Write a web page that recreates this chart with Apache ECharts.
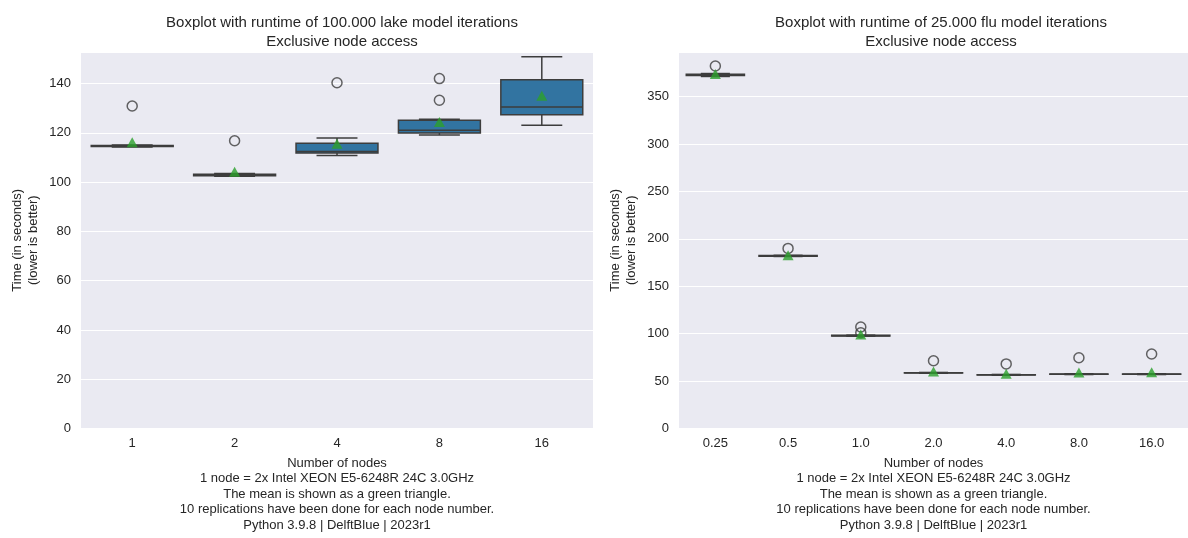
<!DOCTYPE html>
<html>
<head>
<meta charset="utf-8">
<script src="https://cdn.jsdelivr.net/npm/echarts@6/dist/echarts.min.js"></script>
<style>
  html, body { margin: 0; padding: 0; background: #fff; }
  #chart { width: 1188px; height: 538px; }
</style>
</head>
<body>
<div id="chart"></div>
<script>
// lake model, 100.000 iterations
const lakeNodes = ['1', '2', '4', '8', '16'];
const lakeMin = [114.2, 102.4, 110.8, 119.1, 123.1];
const lakeQ1 = [114.4, 102.6, 111.8, 119.9, 127.3];
const lakeMedian = [114.6, 102.8, 112.4, 121.0, 130.5];
const lakeQ3 = [114.9, 103.2, 115.8, 125.1, 141.5];
const lakeMax = [115.1, 103.5, 117.9, 125.5, 150.9];
const lakeMean = [116.2, 104.2, 115.6, 124.4, 135.0];
const lakeOutliers = [[0, 130.9], [1, 116.8], [2, 140.3], [3, 142.0], [3, 133.2]];

// flu model, 25.000 iterations
const fluNodes = ['0.25', '0.5', '1.0', '2.0', '4.0', '8.0', '16.0'];
const fluMin = [371.2, 181.4, 97.4, 58.3, 56.2, 56.9, 56.9];
const fluQ1 = [372.2, 181.7, 97.6, 58.5, 56.4, 57.1, 57.1];
const fluMedian = [372.9, 182.0, 97.9, 58.7, 56.6, 57.3, 57.3];
const fluQ3 = [373.5, 182.3, 98.2, 58.9, 56.8, 57.5, 57.5];
const fluMax = [374.3, 182.6, 98.4, 59.1, 57.0, 57.7, 57.7];
const fluMean = [373.8, 182.8, 99.1, 60.0, 57.8, 59.0, 59.4];
const fluOutliers = [[0, 382.3], [1, 189.9], [2, 107.0], [2, 101.0], [3, 71.5], [4, 68.1], [5, 74.6], [6, 78.5]];

const footer = 'Number of nodes\n1 node = 2x Intel XEON E5-6248R 24C 3.0GHz\nThe mean is shown as a green triangle.\n10 replications have been done for each node number.\nPython 3.9.8 | DelftBlue | 2023r1';
const font = "'Liberation Sans', Arial, sans-serif";
const textColor = '#262626';
const edgeColor = '#3d3d3d';

function boxRows(mins, q1s, meds, q3s, maxs) {
  return mins.map((v, i) => [i, v, q1s[i], meds[i], q3s[i], maxs[i]]);
}

// seaborn-like box: caps half as wide as the box
function renderBox(params, api) {
  const x = api.value(0);
  const pMin = api.coord([x, api.value(1)]);
  const pQ1 = api.coord([x, api.value(2)]);
  const pMed = api.coord([x, api.value(3)]);
  const pQ3 = api.coord([x, api.value(4)]);
  const pMax = api.coord([x, api.value(5)]);
  const band = api.size([1, 0])[0];
  const bw = band * 0.8;
  const cw = bw / 2;
  const cx = pMed[0];
  const line = { stroke: edgeColor, lineWidth: 1.5 };
  return {
    type: 'group',
    children: [
      { type: 'line', shape: { x1: cx, y1: pQ1[1], x2: cx, y2: pMin[1] }, style: line },
      { type: 'line', shape: { x1: cx, y1: pQ3[1], x2: cx, y2: pMax[1] }, style: line },
      { type: 'line', shape: { x1: cx - cw / 2, y1: pMin[1], x2: cx + cw / 2, y2: pMin[1] }, style: line },
      { type: 'line', shape: { x1: cx - cw / 2, y1: pMax[1], x2: cx + cw / 2, y2: pMax[1] }, style: line },
      { type: 'rect', shape: { x: cx - bw / 2, y: pQ3[1], width: bw, height: pQ1[1] - pQ3[1] },
        style: { fill: '#3274a1', stroke: edgeColor, lineWidth: 1.5 } },
      { type: 'line', shape: { x1: cx - bw / 2, y1: pMed[1], x2: cx + bw / 2, y2: pMed[1] }, style: line }
    ]
  };
}

function xAxisCfg(idx, cats) {
  return {
    type: 'category', gridIndex: idx, data: cats,
    axisLine: { show: false }, axisTick: { show: false },
    axisLabel: { color: textColor, fontSize: 13, fontFamily: font, margin: 8 },
    name: footer, nameLocation: 'middle', nameGap: 27,
    nameTextStyle: { color: textColor, fontSize: 13, fontFamily: font, lineHeight: 15.5 }
  };
}

function yAxisCfg(idx, max, interval) {
  return {
    type: 'value', gridIndex: idx, min: 0, max: max, interval: interval,
    axisLine: { show: false }, axisTick: { show: false },
    axisLabel: { color: textColor, fontSize: 13, fontFamily: font, margin: 10, showMaxLabel: false },
    splitLine: { lineStyle: { color: '#ffffff', width: 1.2 } },
    name: 'Time (in seconds)\n(lower is better)', nameLocation: 'middle', nameGap: 40,
    nameTextStyle: { color: textColor, fontSize: 13, fontFamily: font, lineHeight: 16 }
  };
}

function seriesFor(idx, rows, outliers, means) {
  return [
    {
      type: 'custom', xAxisIndex: idx, yAxisIndex: idx,
      renderItem: renderBox, data: rows,
      encode: { x: 0, y: [1, 2, 3, 4, 5] }, z: 2
    },
    {
      type: 'scatter', xAxisIndex: idx, yAxisIndex: idx, data: outliers,
      symbol: 'circle', symbolSize: 10,
      itemStyle: { color: 'rgba(0,0,0,0)', borderColor: edgeColor, borderWidth: 1.5 }, z: 3
    },
    {
      type: 'scatter', xAxisIndex: idx, yAxisIndex: idx,
      data: means.map((v, i) => [i, v]),
      symbol: 'triangle', symbolSize: [11, 10],
      itemStyle: { color: '#2ca02c' }, z: 4
    }
  ];
}

const chart = echarts.init(document.getElementById('chart'), null, { renderer: 'canvas' });

const titleStyle = { color: textColor, fontSize: 15, fontWeight: 'normal', fontFamily: font, lineHeight: 19, align: 'center' };

chart.setOption({
  backgroundColor: '#ffffff',
  animation: false,
  title: [
    { text: 'Boxplot with runtime of 100.000 lake model iterations\nExclusive node access',
      left: 337, top: 8, textAlign: 'center', textStyle: titleStyle },
    { text: 'Boxplot with runtime of 25.000 flu model iterations\nExclusive node access',
      left: 936, top: 8, textAlign: 'center', textStyle: titleStyle }
  ],
  grid: [
    { left: 81, top: 52, width: 512, height: 381, show: true, backgroundColor: '#eaeaf2', borderWidth: 0 },
    { left: 679, top: 52, width: 514, height: 381, show: true, backgroundColor: '#eaeaf2', borderWidth: 0 }
  ],
  xAxis: [xAxisCfg(0, lakeNodes), xAxisCfg(1, fluNodes)],
  yAxis: [yAxisCfg(0, 152.8, 20), yAxisCfg(1, 397, 50)],
  series: [
    ...seriesFor(0, boxRows(lakeMin, lakeQ1, lakeMedian, lakeQ3, lakeMax), lakeOutliers, lakeMean),
    ...seriesFor(1, boxRows(fluMin, fluQ1, fluMedian, fluQ3, fluMax), fluOutliers, fluMean)
  ]
});
</script>
</body>
</html>
